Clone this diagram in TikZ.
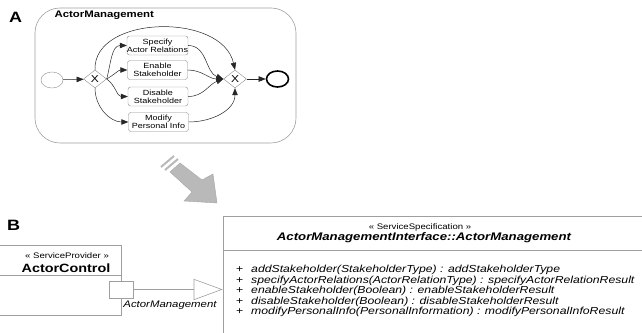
\documentclass[tikz,border=0pt]{standalone}
\usepackage{fontspec}
\setmainfont{Liberation Sans}[FakeStretch=1.2]
\usetikzlibrary{shapes.geometric, arrows.meta}

\tikzset{
  task/.style={draw=gray!90, rounded corners=2.5pt, minimum width=60pt, minimum height=19pt,
    inner sep=0pt, align=center, font=\fontsize{7.5}{8.3}\selectfont},
  gateway/.style={diamond, draw=gray!90, fill=white, minimum width=23pt, minimum height=18pt,
    inner sep=0pt, font=\fontsize{10}{10}\selectfont},
  event/.style={ellipse, draw=gray!90, minimum width=22pt, minimum height=16pt, inner sep=0pt},
  flow/.style={-{Triangle[length=7pt,width=5.5pt]}, black!85, line width=0.5pt},
  uml/.style={draw=gray!75, line width=0.6pt},
  letter/.style={font=\fontsize{15}{15}\selectfont\bfseries},
}

\begin{document}
\begin{tikzpicture}[x=1pt, y=1pt]
  \useasboundingbox (0,0) rectangle (642,332);

  % ---- A: process ----
  \node[letter] (labelA) at (15.5,314.5) {A};
  \draw[gray!75, line width=0.6pt, rounded corners=25pt] (35,324) rectangle (296,189);
  \node[anchor=west, font=\fontsize{9.5}{9.5}\selectfont\bfseries] (title) at (51,316.5) {ActorManagement};

  \node[event] (start) at (52,252) {};
  \node[gateway] (split) at (95,253) {X};
  \node[task] (specify) at (157.5,286.5) {Specify\\Actor Relations};
  \node[task] (enable) at (157.5,262) {Enable\\Stakeholder};
  \node[task] (disable) at (158,235.5) {Disable\\Stakeholder};
  \node[task] (modify) at (158.5,210) {Modify\\Personal Info};
  \node[gateway] (join) at (235,253) {X};
  \node[event, draw=black, line width=1.6pt] (stop) at (277.5,253) {};

  \draw[flow] (start) -- (split);
  \draw[flow] (split.north) .. controls (93,317) and (222,320) .. (join.north);
  \draw[flow] (split.east) to[out=75, in=180] (specify.west);
  \draw[flow] (split.east) to[out=30, in=180] (enable.west);
  \draw[flow] (split.east) to[out=-35, in=180] (disable.west);
  \draw[flow] (split.south) to[out=-90, in=180] (modify.west);
  \draw[flow] (specify.east) to[out=0, in=160] (join.west);
  \draw[flow] (enable.east) to[out=0, in=180] (join.west);
  \draw[flow] (disable.east) to[out=0, in=200] (join.west);
  \draw[flow] (modify.east) to[out=0, in=-90] (join.south);
  \draw[flow] (join) -- (stop);

  % ---- transformation arrow ----
  \fill[gray!55, draw=gray!70] (180,169) -- (202,152) -- (213,158) -- (217,129)
    -- (184,131) -- (192,140) -- (170,160) -- cycle;
  \draw[gray!55, line width=2pt] (161,165) -- (174,176);
  \draw[gray!55, line width=2pt] (165,162) -- (178,173);

  % ---- B: service model ----
  \node[letter] (labelB) at (13.5,107) {B};

  \node[uml, minimum width=131pt, minimum height=70pt] (ctrl) at (55.5,52) {};
  \draw[uml] (-10,57) -- (ctrl.east |- 0,57);
  \node[font=\fontsize{8}{8}\selectfont] (ctrlst) at (67,76) {« ServiceProvider »};
  \node[font=\fontsize{12}{12}\selectfont\bfseries] (ctrlname) at (66,64) {ActorControl};

  \node[uml, fill=white, minimum width=24pt, minimum height=17pt] (port) at (ctrl.east |- 0,42.5) {};
  \node[font=\fontsize{9.5}{9.5}\selectfont\itshape] (portname) at (170,27) {ActorManagement};

  \node[uml, minimum width=437pt, minimum height=129pt] (iface) at (441.5,51.5) {};
  \draw[uml] (iface.west |- 0,82) -- (iface.east |- 0,82);
  \node[font=\fontsize{8}{8}\selectfont] (ifacest) at (420,105) {« ServiceSpecification »};
  \node[font=\fontsize{11}{11}\selectfont\bfseries\itshape] (ifacename) at (424,94)
    {ActorManagementInterface::ActorManagement};
  \node[anchor=west, align=left, inner sep=0pt, font=\fontsize{10.2}{9.5}\selectfont\itshape] (ops) at (236,41) {%
    \makebox[15pt][l]{\upshape +}addStakeholder(StakeholderType) : addStakeholderType\\
    \makebox[15pt][l]{\upshape +}specifyActorRelations(ActorRelationType) : specifyActorRelationResult\\
    \makebox[15pt][l]{\upshape +}enableStakeholder(Boolean) : enableStakeholderResult\\
    \makebox[15pt][l]{\upshape +}disableStakeholder(Boolean) : disableStakeholderResult\\
    \makebox[15pt][l]{\upshape +}modifyPersonalInfo(PersonalInformation) : modifyPersonalInfoResult};

  \draw[gray!75, line width=0.6pt, -{Triangle[open, length=29pt, width=21pt]}]
    (port.east) -- (iface.west |- port.east);
\end{tikzpicture}
\end{document}
